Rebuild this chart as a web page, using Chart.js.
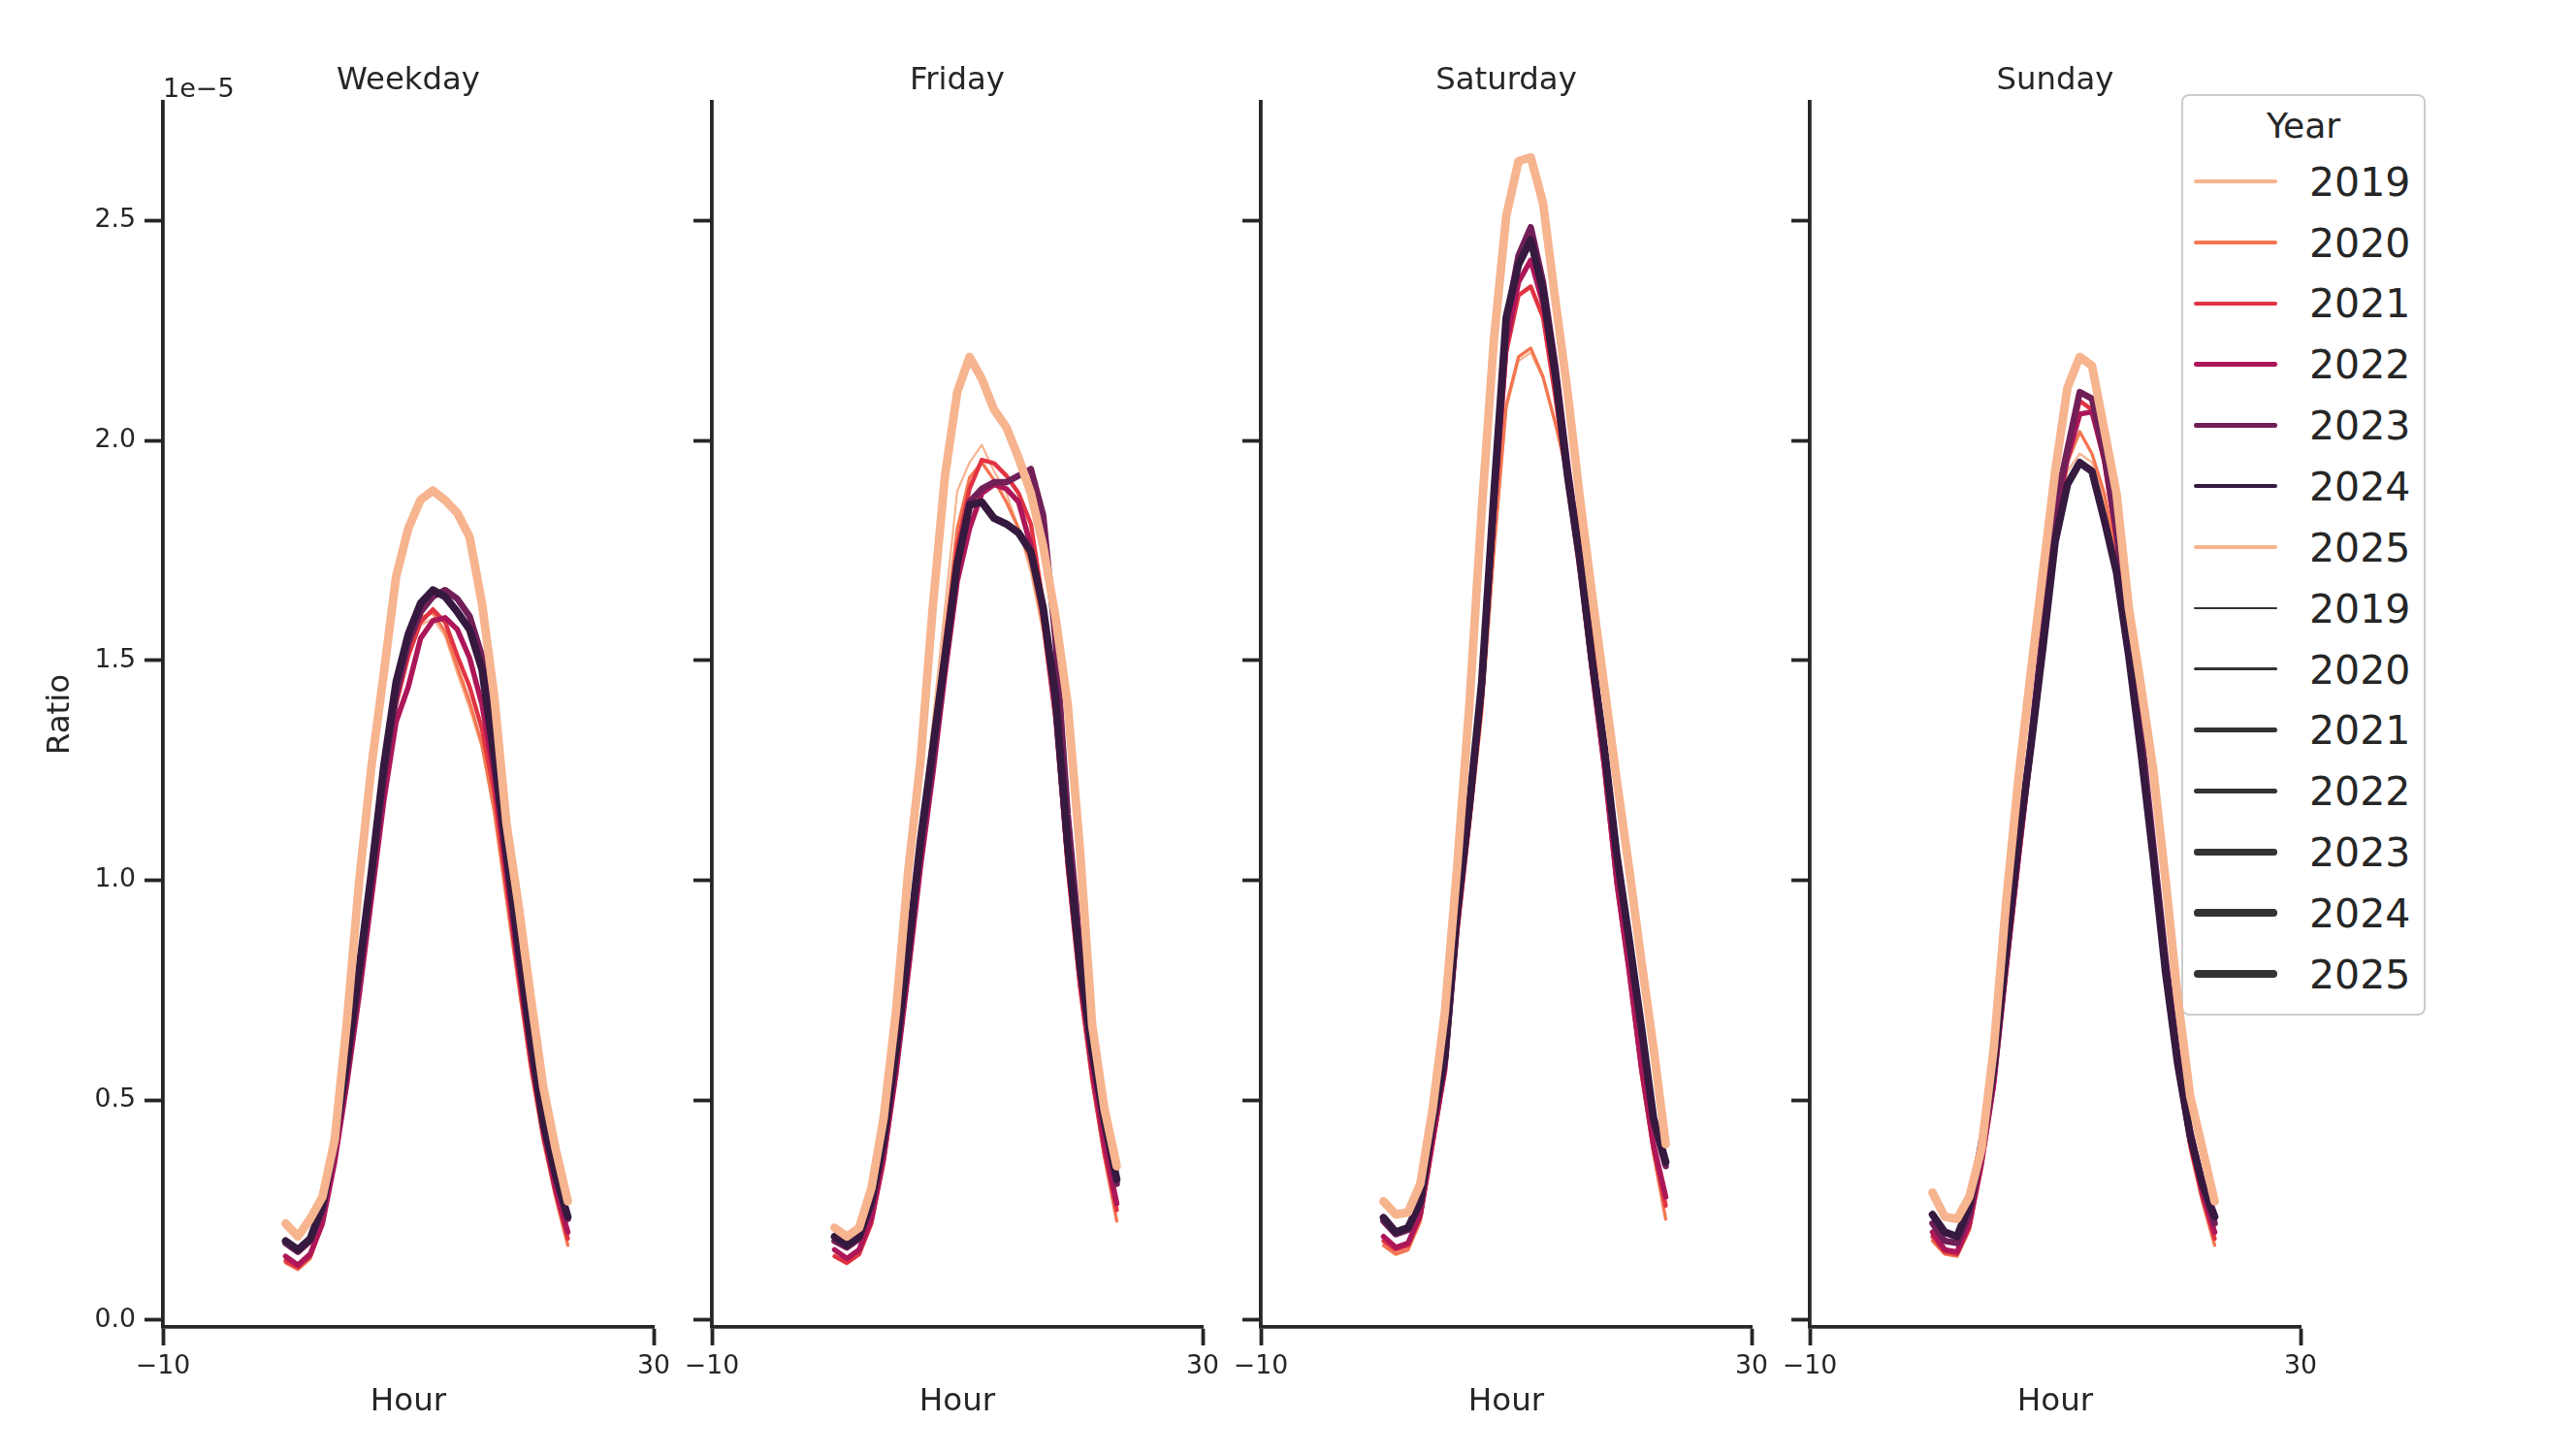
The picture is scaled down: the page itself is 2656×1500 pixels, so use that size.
<!DOCTYPE html>
<html>
<head>
<meta charset="utf-8">
<title>Ratio by hour</title>
<script src="https://cdn.jsdelivr.net/npm/chart.js@4.4.1/dist/chart.umd.min.js"></script>
<style>
    html, body { margin: 0; padding: 0; background: #fff; }
    body { width: 2656px; height: 1500px; position: relative; overflow: hidden;
           font-family: "DejaVu Sans", sans-serif; color: #262626; }
    canvas { position: absolute; top: 0; }
    #legend { position: absolute; left: 2249px; top: 97px; width: 248px; height: 946px;
              border: 2px solid #cccccc; border-radius: 8px; background: rgba(255,255,255,0.8); }
    #legend .ttl { position: absolute; left: 0; width: 100%; top: 10px; text-align: center;
                   font-size: 36px; line-height: 42px; }
    #legend .sw { position: absolute; left: 11px; width: 86px; }
    #legend .lbl { position: absolute; left: 130px; font-size: 41px; line-height: 48px; }
</style>
</head>
<body>
<div id="legend"></div>
<script>
// values are in units of 1e-5
const HOURS = [0, 1, 2, 3, 4, 5, 6, 7, 8, 9, 10, 11, 12, 13, 14, 15, 16, 17, 18, 19, 20, 21, 22, 23];
const YEARS = ["2019", "2020", "2021", "2022", "2023", "2024", "2025"];
const Y_TICKS = [0, 0.5, 1.0, 1.5, 2.0, 2.5];
const X_TICKS = [-10, 30];

const weekday2019 = [0.135, 0.12, 0.145, 0.22, 0.37, 0.56, 0.77, 0.99, 1.21, 1.40, 1.51, 1.58, 1.595, 1.555, 1.47, 1.39, 1.30, 1.15, 0.95, 0.75, 0.56, 0.40, 0.28, 0.175];
const weekday2020 = [0.13, 0.115, 0.14, 0.215, 0.37, 0.56, 0.77, 1.00, 1.22, 1.41, 1.53, 1.597, 1.608, 1.565, 1.485, 1.405, 1.31, 1.16, 0.96, 0.76, 0.57, 0.41, 0.28, 0.17];
const weekday2021 = [0.135, 0.12, 0.145, 0.22, 0.37, 0.56, 0.77, 0.99, 1.21, 1.40, 1.51, 1.587, 1.616, 1.587, 1.51, 1.44, 1.345, 1.20, 0.99, 0.78, 0.58, 0.42, 0.29, 0.185];
const weekday2022 = [0.145, 0.125, 0.15, 0.22, 0.36, 0.54, 0.74, 0.96, 1.18, 1.36, 1.44, 1.55, 1.59, 1.597, 1.57, 1.505, 1.40, 1.24, 1.02, 0.80, 0.60, 0.43, 0.30, 0.20];
const weekday2023 = [0.175, 0.155, 0.18, 0.25, 0.39, 0.57, 0.78, 1.00, 1.23, 1.42, 1.54, 1.61, 1.645, 1.66, 1.64, 1.60, 1.51, 1.30, 1.07, 0.85, 0.63, 0.45, 0.33, 0.23];
const weekday2024 = [0.18, 0.16, 0.185, 0.26, 0.41, 0.59, 0.80, 1.02, 1.26, 1.45, 1.56, 1.63, 1.66, 1.645, 1.61, 1.57, 1.48, 1.28, 1.06, 0.84, 0.63, 0.45, 0.33, 0.235];
const weekday2025 = [0.22, 0.19, 0.23, 0.28, 0.41, 0.68, 1.00, 1.26, 1.47, 1.69, 1.80, 1.865, 1.886, 1.864, 1.835, 1.78, 1.63, 1.42, 1.13, 0.94, 0.73, 0.53, 0.39, 0.27];

const friday2019 = [0.15, 0.13, 0.155, 0.23, 0.38, 0.58, 0.83, 1.10, 1.36, 1.62, 1.885, 1.95, 1.99, 1.93, 1.88, 1.80, 1.70, 1.56, 1.35, 1.02, 0.75, 0.54, 0.37, 0.23];
const friday2020 = [0.145, 0.13, 0.15, 0.22, 0.36, 0.56, 0.80, 1.06, 1.30, 1.56, 1.80, 1.915, 1.95, 1.91, 1.86, 1.80, 1.72, 1.58, 1.36, 1.02, 0.75, 0.54, 0.37, 0.225];
const friday2021 = [0.145, 0.13, 0.15, 0.22, 0.36, 0.56, 0.79, 1.04, 1.27, 1.52, 1.76, 1.89, 1.956, 1.948, 1.92, 1.88, 1.81, 1.63, 1.38, 1.03, 0.76, 0.55, 0.38, 0.25];
const friday2022 = [0.16, 0.14, 0.16, 0.23, 0.37, 0.56, 0.79, 1.03, 1.24, 1.47, 1.68, 1.80, 1.88, 1.90, 1.89, 1.86, 1.76, 1.60, 1.38, 1.05, 0.78, 0.57, 0.40, 0.265];
const friday2023 = [0.18, 0.165, 0.185, 0.26, 0.40, 0.60, 0.83, 1.07, 1.27, 1.50, 1.72, 1.86, 1.89, 1.905, 1.905, 1.92, 1.935, 1.83, 1.55, 1.15, 0.85, 0.63, 0.46, 0.31];
const friday2024 = [0.19, 0.17, 0.19, 0.27, 0.41, 0.61, 0.84, 1.09, 1.30, 1.51, 1.72, 1.853, 1.86, 1.823, 1.81, 1.79, 1.747, 1.62, 1.42, 1.08, 0.81, 0.61, 0.45, 0.32];
const friday2025 = [0.21, 0.19, 0.21, 0.30, 0.46, 0.70, 1.02, 1.27, 1.62, 1.92, 2.11, 2.19, 2.14, 2.07, 2.03, 1.96, 1.88, 1.76, 1.60, 1.40, 1.07, 0.67, 0.48, 0.35];

const saturday2019 = [0.168, 0.148, 0.158, 0.222, 0.385, 0.555, 0.865, 1.115, 1.375, 1.745, 2.07, 2.18, 2.20, 2.14, 2.035, 1.915, 1.79, 1.575, 1.295, 0.995, 0.785, 0.555, 0.375, 0.228];
const saturday2020 = [0.17, 0.15, 0.16, 0.225, 0.39, 0.56, 0.87, 1.12, 1.38, 1.75, 2.08, 2.19, 2.21, 2.145, 2.04, 1.92, 1.80, 1.58, 1.30, 1.00, 0.79, 0.56, 0.38, 0.23];
const saturday2021 = [0.18, 0.16, 0.17, 0.235, 0.40, 0.57, 0.89, 1.14, 1.41, 1.82, 2.20, 2.33, 2.35, 2.28, 2.10, 1.90, 1.70, 1.47, 1.25, 0.99, 0.79, 0.57, 0.39, 0.26];
const saturday2022 = [0.19, 0.165, 0.175, 0.24, 0.41, 0.57, 0.89, 1.15, 1.42, 1.84, 2.22, 2.36, 2.41, 2.31, 2.14, 1.92, 1.72, 1.48, 1.26, 1.00, 0.80, 0.58, 0.40, 0.28];
const saturday2023 = [0.225, 0.195, 0.205, 0.265, 0.44, 0.59, 0.92, 1.17, 1.44, 1.86, 2.27, 2.42, 2.485, 2.36, 2.17, 1.94, 1.74, 1.51, 1.30, 1.06, 0.86, 0.66, 0.45, 0.35];
const saturday2024 = [0.233, 0.20, 0.21, 0.27, 0.45, 0.60, 0.93, 1.17, 1.45, 1.88, 2.28, 2.40, 2.456, 2.34, 2.15, 1.92, 1.73, 1.50, 1.30, 1.06, 0.87, 0.67, 0.46, 0.36];
const saturday2025 = [0.27, 0.24, 0.245, 0.31, 0.48, 0.70, 1.03, 1.40, 1.84, 2.23, 2.51, 2.635, 2.644, 2.54, 2.32, 2.11, 1.87, 1.65, 1.44, 1.23, 1.03, 0.82, 0.62, 0.40];

const sunday2019 = [0.18, 0.15, 0.145, 0.205, 0.35, 0.53, 0.79, 1.04, 1.28, 1.52, 1.78, 1.93, 1.97, 1.95, 1.86, 1.72, 1.52, 1.29, 1.03, 0.78, 0.56, 0.39, 0.27, 0.175];
const sunday2020 = [0.18, 0.15, 0.145, 0.205, 0.35, 0.53, 0.79, 1.04, 1.28, 1.53, 1.80, 1.95, 2.02, 1.97, 1.88, 1.74, 1.53, 1.30, 1.04, 0.78, 0.56, 0.39, 0.27, 0.17];
const sunday2021 = [0.19, 0.155, 0.15, 0.21, 0.35, 0.53, 0.79, 1.04, 1.28, 1.53, 1.80, 1.97, 2.09, 2.07, 1.95, 1.77, 1.55, 1.31, 1.05, 0.79, 0.57, 0.40, 0.28, 0.185];
const sunday2022 = [0.20, 0.16, 0.155, 0.22, 0.36, 0.54, 0.80, 1.05, 1.29, 1.54, 1.82, 1.96, 2.06, 2.065, 1.96, 1.78, 1.56, 1.32, 1.06, 0.80, 0.58, 0.41, 0.29, 0.20];
const sunday2023 = [0.22, 0.18, 0.175, 0.24, 0.38, 0.56, 0.82, 1.07, 1.31, 1.57, 1.85, 1.98, 2.11, 2.095, 1.97, 1.80, 1.58, 1.34, 1.08, 0.82, 0.60, 0.43, 0.31, 0.22];
const sunday2024 = [0.24, 0.20, 0.19, 0.26, 0.40, 0.58, 0.84, 1.09, 1.30, 1.53, 1.77, 1.90, 1.95, 1.93, 1.82, 1.70, 1.51, 1.29, 1.05, 0.79, 0.58, 0.42, 0.31, 0.235];
const sunday2025 = [0.29, 0.235, 0.23, 0.28, 0.39, 0.62, 0.95, 1.23, 1.47, 1.70, 1.93, 2.12, 2.19, 2.17, 2.025, 1.88, 1.62, 1.44, 1.25, 1.00, 0.73, 0.51, 0.39, 0.27];

// rocket palette (6 colours, cycles back for the 7th year)
const COLORS = ["#f6b48f", "#f37651", "#e13342", "#ad1759", "#701f57", "#35193e", "#f6b48f"];
const WIDTHS = [2.2, 3.3, 4.4, 5.5, 6.6, 7.7, 8.8];

const panels = [
    { title: "Weekday", series: [weekday2019, weekday2020, weekday2021, weekday2022, weekday2023, weekday2024, weekday2025] },
    { title: "Friday", series: [friday2019, friday2020, friday2021, friday2022, friday2023, friday2024, friday2025] },
    { title: "Saturday", series: [saturday2019, saturday2020, saturday2021, saturday2022, saturday2023, saturday2024, saturday2025] },
    { title: "Sunday", series: [sunday2019, sunday2020, sunday2021, sunday2022, sunday2023, sunday2024, sunday2025] }
];

const INK = "#262626";
const FONT = "DejaVu Sans";
const PANEL_LEFT = [168, 734, 1300, 1866];
const PLOT_W = 506;
const AXIS_W = 168;   // room left of each plot for the y axis
const AXIS_H = 132;   // room under each plot for the x axis
const RIGHT_PAD = 40;

// matplotlib-style offset text ("1e−5") over the first y axis
const offsetText = {
    id: "offsetText",
    afterDraw(chart, args, opts) {
        if (!opts.text) return;
        const ctx = chart.ctx;
        ctx.save();
        ctx.font = "27px '" + FONT + "'";
        ctx.fillStyle = INK;
        ctx.textAlign = "left";
        ctx.textBaseline = "alphabetic";
        ctx.fillText(opts.text, chart.chartArea.left, chart.chartArea.top - 5);
        ctx.restore();
    }
};

function minusSign(v) {
    return v < 0 ? "\u2212" + Math.abs(v) : String(v);
}

panels.forEach(function(panel, p) {
    const canvas = document.createElement("canvas");
    const w = AXIS_W + PLOT_W + RIGHT_PAD;
    canvas.width = w;
    canvas.height = 1500;
    canvas.style.left = (PANEL_LEFT[p] - AXIS_W) + "px";
    canvas.style.width = w + "px";
    canvas.style.height = "1500px";
    document.body.appendChild(canvas);

    const datasets = panel.series.map(function(vals, i) {
        return {
            label: YEARS[i],
            data: HOURS.map(function(h, k) { return { x: h, y: vals[k] }; }),
            borderColor: COLORS[i],
            borderWidth: WIDTHS[i],
            order: YEARS.length - 1 - i
        };
    });

    new Chart(canvas.getContext("2d"), {
        type: "line",
        data: { datasets: datasets },
        options: {
            responsive: false,
            animation: false,
            devicePixelRatio: 1,
            layout: { padding: { left: 0, right: RIGHT_PAD, top: 0, bottom: 0 } },
            elements: {
                point: { radius: 0 },
                line: { tension: 0, borderCapStyle: "round", borderJoinStyle: "round", fill: false }
            },
            plugins: {
                legend: { display: false },
                tooltip: { enabled: false },
                title: {
                    display: true,
                    text: panel.title,
                    fullSize: false,
                    color: INK,
                    font: { family: FONT, size: 32.3, weight: "normal" },
                    padding: { top: 64, bottom: 2.2 }
                },
                offsetText: { text: p === 0 ? "1e\u22125" : "" }
            },
            scales: {
                x: {
                    type: "linear",
                    min: -10,
                    max: 30,
                    afterBuildTicks: function(s) { s.ticks = X_TICKS.map(function(v) { return { value: v }; }); },
                    afterFit: function(s) { s.height = AXIS_H; },
                    grid: { drawOnChartArea: false, drawTicks: true, tickLength: 19, tickWidth: 3.8, tickColor: INK },
                    border: { display: true, color: INK, width: 3.8 },
                    ticks: {
                        color: INK, padding: 6, maxRotation: 0, autoSkip: false,
                        font: { family: FONT, size: 26.7 },
                        callback: minusSign
                    },
                    title: {
                        display: true, text: "Hour", color: INK,
                        font: { family: FONT, size: 32.5 },
                        padding: { top: 0, bottom: 34.5 }
                    }
                },
                y: {
                    type: "linear",
                    min: -0.0156,
                    max: 2.770,
                    afterBuildTicks: function(s) { s.ticks = Y_TICKS.map(function(v) { return { value: v }; }); },
                    afterFit: function(s) { s.width = AXIS_W; },
                    grid: { drawOnChartArea: false, drawTicks: true, tickLength: 19, tickWidth: 3.8, tickColor: INK },
                    border: { display: true, color: INK, width: 3.8 },
                    ticks: {
                        display: p === 0, color: INK, padding: 9,
                        font: { family: FONT, size: 26.7 },
                        callback: function(v) { return v.toFixed(1); }
                    },
                    title: {
                        display: p === 0, text: "Ratio", color: INK,
                        font: { family: FONT, size: 32.5 },
                        padding: { top: 43, bottom: 0 }
                    }
                }
            }
        },
        plugins: [offsetText]
    });
});

// legend: hue entries first, then the size entries in dark grey
const legend = document.getElementById("legend");
const ttl = document.createElement("div");
ttl.className = "ttl";
ttl.textContent = "Year";
legend.appendChild(ttl);

const rows = YEARS.map(function(y, i) { return { text: y, color: COLORS[i], lw: 4.4 }; })
    .concat(YEARS.map(function(y, i) { return { text: y, color: "#333333", lw: WIDTHS[i] }; }));

rows.forEach(function(r, k) {
    const cy = 88 + 62.85 * k;
    const sw = document.createElement("div");
    sw.className = "sw";
    sw.style.top = (cy - r.lw / 2) + "px";
    sw.style.height = r.lw + "px";
    sw.style.borderRadius = (r.lw / 2) + "px";
    sw.style.background = r.color;
    legend.appendChild(sw);

    const lbl = document.createElement("div");
    lbl.className = "lbl";
    lbl.style.top = (cy - 23.3) + "px";
    lbl.textContent = r.text;
    legend.appendChild(lbl);
});
</script>
</body>
</html>
